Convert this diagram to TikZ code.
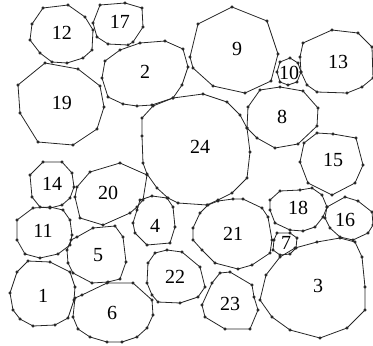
\documentclass[tikz,border=0pt]{standalone}
\usepackage{fontspec}
\setmainfont{Liberation Serif}
\usetikzlibrary{positioning}

\begin{document}
\begin{tikzpicture}[x=1pt, y=-1pt,
    cell/.style={draw=black!85, line width=0.8pt, line join=round, mark=*, mark size=1.2pt, mark options={fill=black!85, draw=black!85}},
    num/.style={font=\fontsize{20}{22}\selectfont, inner sep=0pt}]
    \useasboundingbox (0,0) rectangle (373,346);
    % cells, top row
    \draw [cell] plot coordinates {(43,8) (68,5) (85,17) (93,30) (92,50) (83,58) (67,63) (52,62) (40,53) (30,40) (32,24)} -- cycle;
    \draw [cell] plot coordinates {(100,5) (125,3) (142,8) (143,27) (133,42) (128,45) (108,44) (97,37) (93,23)} -- cycle;
    \draw [cell] plot coordinates {(105,61) (120,50) (140,43) (165,41) (183,49) (188,67) (182,85) (173,98) (152,105) (137,106) (123,104) (108,97) (102,78)} -- cycle;
    \draw [cell] plot coordinates {(45,63) (78,69) (100,86) (104,107) (97,129) (73,145) (38,142) (20,113) (18,85)} -- cycle;
    \draw [cell] plot coordinates {(232,7) (267,21) (278,54) (271,81) (245,93) (213,86) (193,68) (190,57) (198,24)} -- cycle;
    \draw [cell] plot coordinates {(280,62) (290,58) (298,63) (301,72) (297,82) (288,85) (280,82) (277,72)} -- cycle;
    \draw [cell] plot coordinates {(303,43) (332,30) (358,33) (372,47) (373,78) (362,87) (347,93) (317,92) (307,85) (301,72) (300,57)} -- cycle;
    % middle
    \draw [cell] plot coordinates {(260,90) (280,87) (303,91) (318,108) (317,126) (298,144) (275,148) (257,138) (247,128) (248,107)} -- cycle;
    \draw [cell] plot coordinates {(142,118) (153,106) (173,98) (203,94) (227,102) (240,115) (247,128) (250,152) (247,178) (232,193) (218,200) (207,205) (178,203) (168,198) (157,188) (147,174) (143,163) (142,136)} -- cycle;
    \draw [cell] plot coordinates {(317,133) (333,134) (356,138) (363,165) (355,183) (332,195) (308,183) (300,162) (304,143)} -- cycle;
    \draw [cell] plot coordinates {(43,162) (62,162) (72,173) (74,187) (70,198) (62,205) (50,208) (40,207) (32,197) (30,175)} -- cycle;
    \draw [cell] plot coordinates {(90,172) (120,163) (147,175) (143,200) (137,207) (130,213) (103,225) (80,218) (75,197) (77,187)} -- cycle;
    \draw [cell] plot coordinates {(140,200) (152,196) (167,198) (173,207) (175,227) (170,243) (147,245) (135,233) (133,223) (137,210)} -- cycle;
    \draw [cell] plot coordinates {(280,191) (300,190) (312,188) (322,195) (327,207) (323,217) (315,227) (303,231) (290,230) (275,223) (270,210) (270,200)} -- cycle;
    \draw [cell] plot coordinates {(327,207) (345,197) (358,201) (372,212) (373,225) (368,233) (353,240) (340,237) (330,228) (325,218)} -- cycle;
    \draw [cell] plot coordinates {(208,205) (218,201) (233,199) (243,199) (262,208) (268,217) (272,240) (270,253) (252,265) (238,269) (215,263) (202,250) (193,240) (193,228) (200,213)} -- cycle;
    \draw [cell] plot coordinates {(277,233) (290,233) (297,238) (296,248) (290,254) (280,255) (273,250) (274,240)} -- cycle;
    % bottom
    \draw [cell] plot coordinates {(33,208) (50,207) (63,210) (70,220) (72,235) (70,245) (58,254) (40,258) (25,254) (17,240) (17,220)} -- cycle;
    \draw [cell] plot coordinates {(77,237) (93,228) (115,226) (123,237) (126,262) (120,279) (108,282) (92,283) (73,273) (68,263) (67,250) (71,240)} -- cycle;
    \draw [cell] plot coordinates {(28,261) (50,262) (70,272) (75,287) (74,300) (68,318) (55,325) (33,326) (20,319) (13,310) (10,293) (17,272)} -- cycle;
    \draw [cell] plot coordinates {(82,295) (107,283) (133,283) (152,300) (153,315) (147,328) (137,337) (122,342) (107,342) (90,337) (78,329) (73,317) (75,298)} -- cycle;
    \draw [cell] plot coordinates {(155,253) (167,250) (182,252) (200,267) (205,287) (198,297) (180,303) (158,302) (152,295) (147,283) (148,263)} -- cycle;
    \draw [cell] plot coordinates {(220,273) (230,272) (252,285) (254,297) (258,310) (250,329) (225,329) (205,317) (202,305) (212,283)} -- cycle;
    \draw [cell] plot coordinates {(295,248) (317,242) (340,238) (355,242) (362,257) (365,287) (365,310) (347,328) (320,338) (290,330) (272,317) (260,300) (266,275) (280,257)} -- cycle;
    % labels
    \node [num] (n12) at (62,33) {12};
    \node [num] (n17) at (120,22) {17};
    \node [num] (n2) at (145,72) {2};
    \node [num] (n19) at (62,103) {19};
    \node [num] (n9) at (237,49) {9};
    \node [num] (n10) at (289,73) {10};
    \node [num] (n13) at (338,62) {13};
    \node [num] (n8) at (282,117) {8};
    \node [num] (n24) at (200,147) {24};
    \node [num] (n15) at (333,160) {15};
    \node [num] (n14) at (52,184) {14};
    \node [num] (n20) at (108,193) {20};
    \node [num] (n4) at (155,226) {4};
    \node [num] (n18) at (298,208) {18};
    \node [num] (n16) at (345,220) {16};
    \node [num] (n11) at (43,231) {11};
    \node [num] (n5) at (98,255) {5};
    \node [num] (n21) at (233,234) {21};
    \node [num] (n7) at (286,243) {7};
    \node [num] (n22) at (175,277) {22};
    \node [num] (n3) at (318,286) {3};
    \node [num] (n1) at (43,296) {1};
    \node [num] (n6) at (112,313) {6};
    \node [num] (n23) at (230,304) {23};
\end{tikzpicture}
\end{document}
